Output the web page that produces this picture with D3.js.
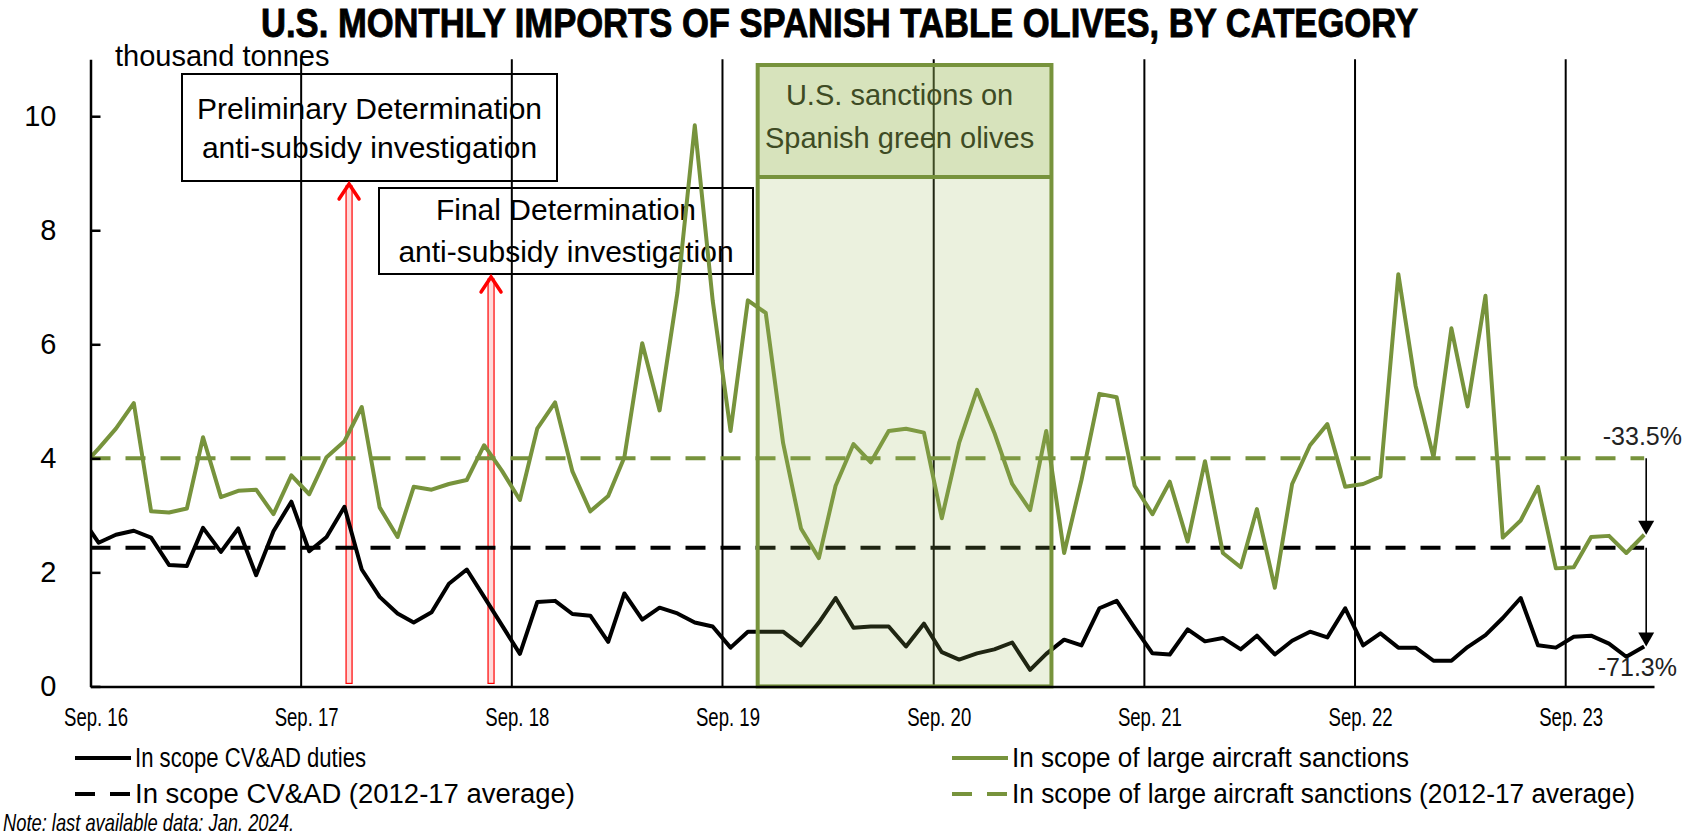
<!DOCTYPE html>
<html><head><meta charset="utf-8">
<script src="https://cdn.jsdelivr.net/npm/d3@7"></script>
<style>body{margin:0;background:#fff} svg{display:block}</style>
</head><body><svg id="c" width="1687" height="837"></svg>
<script>
// ---------------- DATA ----------------
const months = [
 "2016-08","2016-09","2016-10","2016-11","2016-12",
 "2017-01","2017-02","2017-03","2017-04","2017-05","2017-06","2017-07","2017-08","2017-09","2017-10","2017-11","2017-12",
 "2018-01","2018-02","2018-03","2018-04","2018-05","2018-06","2018-07","2018-08","2018-09","2018-10","2018-11","2018-12",
 "2019-01","2019-02","2019-03","2019-04","2019-05","2019-06","2019-07","2019-08","2019-09","2019-10","2019-11","2019-12",
 "2020-01","2020-02","2020-03","2020-04","2020-05","2020-06","2020-07","2020-08","2020-09","2020-10","2020-11","2020-12",
 "2021-01","2021-02","2021-03","2021-04","2021-05","2021-06","2021-07","2021-08","2021-09","2021-10","2021-11","2021-12",
 "2022-01","2022-02","2022-03","2022-04","2022-05","2022-06","2022-07","2022-08","2022-09","2022-10","2022-11","2022-12",
 "2023-01","2023-02","2023-03","2023-04","2023-05","2023-06","2023-07","2023-08","2023-09","2023-10","2023-11","2023-12",
 "2024-01"];
// thousand tonnes
const cvadDuties = [2.98,
 2.52,2.66,2.73,2.61,2.13,2.11,2.78,2.36,2.77,1.95,2.72,3.24,
 2.37,2.62,3.15,2.05,1.57,1.28,1.12,1.30,1.80,2.05,1.57,1.07,
 0.57,1.48,1.50,1.27,1.24,0.78,1.63,1.17,1.38,1.28,1.12,1.05,
 0.68,0.96,0.96,0.96,0.72,1.12,1.55,1.03,1.05,1.05,0.70,1.10,
 0.60,0.47,0.58,0.65,0.77,0.29,0.57,0.82,0.72,1.37,1.50,1.03,
 0.58,0.56,1.00,0.79,0.85,0.65,0.89,0.56,0.80,0.96,0.86,1.37,
 0.72,0.93,0.68,0.68,0.45,0.45,0.69,0.90,1.20,1.55,0.72,0.68,
 0.87,0.89,0.75,0.52,0.70];
const aircraftSanctions = [3.83,
 4.17,4.52,4.97,3.07,3.05,3.12,4.37,3.32,3.43,3.45,3.02,3.70,
 3.37,4.02,4.30,4.90,3.14,2.62,3.50,3.45,3.55,3.62,4.23,3.78,
 3.27,4.52,4.98,3.77,3.07,3.34,4.02,6.02,4.84,6.91,9.84,6.77,
 4.48,6.77,6.55,4.27,2.77,2.25,3.52,4.25,3.93,4.48,4.52,4.45,
 2.95,4.27,5.20,4.45,3.55,3.09,4.48,2.34,3.62,5.13,5.07,3.52,
 3.02,3.59,2.54,3.95,2.34,2.09,3.11,1.73,3.55,4.23,4.60,3.50,
 3.55,3.68,7.23,5.27,4.02,6.28,4.91,6.85,2.61,2.91,3.50,2.07,
 2.09,2.62,2.64,2.34,2.66];
const cvadAverage = 2.43;       // 2012-17 average
const aircraftAverage = 4.00;   // 2012-17 average
const yTicks = [0,2,4,6,8,10];
const xTickDates = ["2016-09-01","2017-09-01","2018-09-01","2019-09-01","2020-09-01","2021-09-01","2022-09-01","2023-09-01"];
const xTickLabels = ["Sep. 16","Sep. 17","Sep. 18","Sep. 19","Sep. 20","Sep. 21","Sep. 22","Sep. 23"];
const eventDates = ["2017-11-23","2018-07-27"];
const eventLabels = [["Preliminary Determination","anti-subsidy investigation"],["Final Determination","anti-subsidy investigation"]];
const sanctionPeriod = ["2019-11-01","2021-03-24"];
const sanctionLabel = ["U.S. sanctions on","Spanish green olives"];
const changeLabels = ["-33.5%","-71.3%"];
const seriesNames = ["In scope CV&AD duties","In scope CV&AD (2012-17 average)","In scope of large aircraft sanctions","In scope of large aircraft sanctions (2012-17 average)"];
const titleText = "U.S. MONTHLY IMPORTS OF SPANISH TABLE OLIVES, BY CATEGORY";
const unitText = "thousand tonnes";
const noteText = "Note: last available data: Jan. 2024.";

// ---------------- SETUP ----------------
const GREEN = "#77933c";
const svg = d3.select("#c");
const pm = d3.timeParse("%Y-%m"), pd = d3.timeParse("%Y-%m-%d");
const dates = months.map(m => d3.timeDay.offset(pm(m), 14));
const x = d3.scaleTime().domain([pd("2016-09-01"), pd("2024-02-01")]).range([90.5, 1654]);
const y = d3.scaleLinear().domain([0, 11]).range([686.4, 59.2]);
const FONT = "'Liberation Sans', Arial, sans-serif";

svg.append("defs").append("clipPath").attr("id","plotclip")
  .append("rect").attr("x", x.range()[0]).attr("y", 0).attr("width", x.range()[1]-x.range()[0]).attr("height", 700);

// title
svg.append("text").attr("x", 261).attr("y", 37).attr("textLength", 1157).attr("lengthAdjust","spacingAndGlyphs")
  .style("font-family","'Liberation Sans Narrow','Liberation Sans',Arial,sans-serif").style("font-weight","bold").style("font-size","41px")
  .attr("stroke","#000").attr("stroke-width",0.9).text(titleText);

// unit
svg.append("text").attr("x", 115).attr("y", 66).style("font-family", FONT).style("font-size","29px").text(unitText);

// vertical gridlines
svg.append("g").selectAll("line").data(xTickDates.slice(1)).join("line")
  .attr("x1", d => x(pd(d))).attr("x2", d => x(pd(d)))
  .attr("y1", y(11)).attr("y2", y(0)).attr("stroke","#000").attr("stroke-width",2);

// annotation boxes
const boxes = [{x0:182,x1:557,y0:74,y1:181,cx:369.5,b:[119,158]},{x0:379,x1:753,y0:188,y1:274,cx:566,b:[220,262]}];
eventLabels.forEach((lab,i) => {
  const b = boxes[i];
  svg.append("rect").attr("x",b.x0).attr("y",b.y0).attr("width",b.x1-b.x0).attr("height",b.y1-b.y0)
    .attr("fill","none").attr("stroke","#000").attr("stroke-width",2);
  lab.forEach((t,j) => svg.append("text").attr("x",b.cx).attr("y",b.b[j]).attr("text-anchor","middle")
    .style("font-family",FONT).style("font-size","30px").text(t));
});

// red arrows
eventDates.forEach((d,i) => {
  const ax = x(pd(d)), tip = boxes[i].y1 + 1;
  svg.append("rect").attr("x", ax-3).attr("y", tip+4).attr("width",6).attr("height", y(0)-3-(tip+4))
    .attr("fill","#ffdada").attr("stroke","#ff0000").attr("stroke-width",1.2);
  svg.append("polyline").attr("points", `${ax-10},${tip+17} ${ax},${tip+2} ${ax+10},${tip+17}`)
    .attr("fill","none").attr("stroke","#ff0000").attr("stroke-width",3.5).attr("stroke-linecap","round");
});

// average dashed lines
const lastDate = dates[dates.length-1];
const dashLine = d3.line().x(d => x(d[0])).y(d => y(d[1]));
[[aircraftAverage, GREEN],[cvadAverage, "#000"]].forEach(([v,c]) => {
  svg.append("path").attr("d", dashLine([[x.domain()[0], v],[lastDate, v]]))
    .attr("fill","none").attr("stroke",c).attr("stroke-width",4).attr("stroke-dasharray","20,15");
});

// series lines
const line = d3.line().x(d => x(d.date)).y(d => y(d.v));
const gl = svg.append("g").attr("clip-path","url(#plotclip)");
gl.append("path").attr("d", line(dates.map((d,i)=>({date:d, v:cvadDuties[i]}))))
  .attr("fill","none").attr("stroke","#000").attr("stroke-width",4).attr("stroke-linejoin","round");
gl.append("path").attr("d", line(dates.map((d,i)=>({date:d, v:aircraftSanctions[i]}))))
  .attr("fill","none").attr("stroke",GREEN).attr("stroke-width",4).attr("stroke-linejoin","round");

// sanctions overlay box
const sx0 = x(pd(sanctionPeriod[0])), sx1 = x(pd(sanctionPeriod[1]));
const sTop = 65, sHead = 177;
svg.append("rect").attr("x",sx0).attr("y",sTop).attr("width",sx1-sx0).attr("height",y(0)-sTop)
  .attr("fill","rgba(155,187,89,0.2)");
svg.append("rect").attr("x",sx0).attr("y",sTop).attr("width",sx1-sx0).attr("height",sHead-sTop)
  .attr("fill","rgba(155,187,89,0.25)");
svg.append("rect").attr("x",sx0).attr("y",sTop).attr("width",sx1-sx0).attr("height",y(0)-sTop)
  .attr("fill","none").attr("stroke",GREEN).attr("stroke-width",4);
svg.append("line").attr("x1",sx0).attr("x2",sx1).attr("y1",sHead).attr("y2",sHead).attr("stroke",GREEN).attr("stroke-width",4);
sanctionLabel.forEach((t,j) => svg.append("text").attr("x",(sx0+sx1)/2 - 5).attr("y",[105,148][j]).attr("text-anchor","middle")
  .style("font-family",FONT).style("font-size","29px").attr("fill","#3e4b24").text(t));

// axes
const yAxis = svg.append("g").attr("transform",`translate(${x.range()[0]},0)`)
  .call(d3.axisLeft(y).tickValues(yTicks).tickSizeInner(-10).tickSizeOuter(0).tickPadding(34).tickFormat(d3.format("d")));
yAxis.selectAll("path,line").attr("stroke","#000").attr("stroke-width",2.5);
yAxis.selectAll("text").style("font-family",FONT).style("font-size","29px").attr("fill","#000");

const xAxis = svg.append("g").attr("transform",`translate(0,${y(0)})`)
  .call(d3.axisBottom(x).tickValues(xTickDates.map(pd)).tickSize(0).tickPadding(22).tickFormat((d,i)=>xTickLabels[i]));
xAxis.select("path").attr("stroke","#000").attr("stroke-width",2.5);
xAxis.selectAll("text").style("font-family",FONT).style("font-size","25px").attr("fill","#000")
  .attr("dx",5).attr("textLength",64).attr("lengthAdjust","spacingAndGlyphs");

// change arrows on the right
const axr = x(lastDate) + 2;
[[aircraftAverage, aircraftSanctions[aircraftSanctions.length-1]],[cvadAverage, cvadDuties[cvadDuties.length-1]]].forEach(([a,b]) => {
  const y0 = y(a), y1 = y(b);
  svg.append("line").attr("x1",axr).attr("x2",axr).attr("y1",y0).attr("y2",y1-12).attr("stroke","#000").attr("stroke-width",1.6);
  svg.append("path").attr("d",`M${axr-8},${y1-14}L${axr+8},${y1-14}L${axr},${y1}Z`).attr("fill","#000");
});
svg.append("text").attr("x",1682).attr("y",y(aircraftAverage)-13).attr("text-anchor","end")
  .style("font-family",FONT).style("font-size","25px").attr("fill","#222").text(changeLabels[0]);
svg.append("text").attr("x",1677).attr("y",y(cvadDuties[cvadDuties.length-1])+30).attr("text-anchor","end")
  .style("font-family",FONT).style("font-size","25px").attr("fill","#222").text(changeLabels[1]);

// legend
const legend = [
  {x:75, y:758, c:"#000", dash:null, w:231, t:seriesNames[0]},
  {x:75, y:794, c:"#000", dash:"20,15", w:440, t:seriesNames[1]},
  {x:952, y:758, c:GREEN, dash:null, w:397, t:seriesNames[2]},
  {x:952, y:794, c:GREEN, dash:"20,15", w:623, t:seriesNames[3]}];
legend.forEach(l => {
  svg.append("line").attr("x1",l.x).attr("x2",l.x+56).attr("y1",l.y).attr("y2",l.y)
    .attr("stroke",l.c).attr("stroke-width",4).attr("stroke-dasharray",l.dash);
  svg.append("text").attr("x",l.x+60).attr("y",l.y+9).attr("textLength",l.w).attr("lengthAdjust","spacingAndGlyphs")
    .style("font-family",FONT).style("font-size","27px").text(l.t);
});

// note
svg.append("text").attr("x",3).attr("y",831).attr("textLength",291).attr("lengthAdjust","spacingAndGlyphs")
  .style("font-family",FONT).style("font-size","24px").style("font-style","italic").text(noteText);
</script></body></html>
